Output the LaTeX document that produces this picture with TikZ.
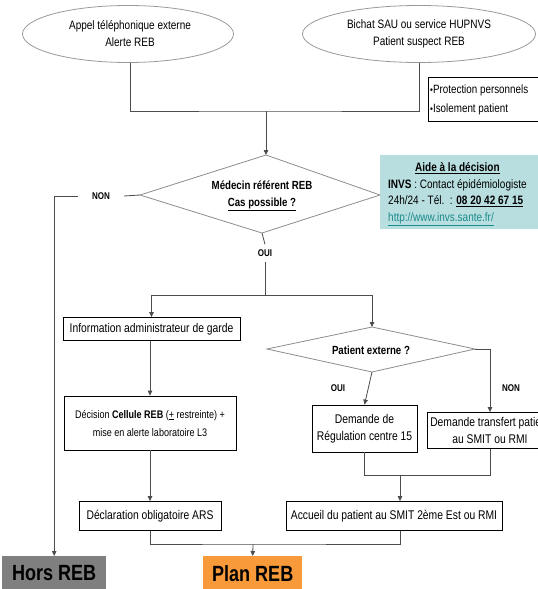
\documentclass[tikz,border=0pt]{standalone}
\usepackage{fontspec}
\setmainfont{Liberation Sans}[FakeStretch=0.82]
\usetikzlibrary{shapes.geometric,arrows.meta}
\definecolor{aidefill}{HTML}{B8DEE0}
\definecolor{urlc}{HTML}{1A8A8A}
\definecolor{horsfill}{HTML}{7F7F7F}
\definecolor{planfill}{HTML}{F99A3A}
\begin{document}
\begin{tikzpicture}[x=1pt,y=-1pt,
  conn/.style={draw=black!70, line width=0.8pt},
  arr/.style={conn, -{Triangle[length=5pt,width=4.5pt]}},
  txt/.style={font=\fontsize{12.6}{17.5}\selectfont},
  lbl/.style={font=\bfseries\fontsize{9.8}{11}\selectfont, inner sep=0pt},
  oval/.style={ellipse, draw=black!40, line width=0.8pt, inner sep=0pt},
  ovaltext/.style={font=\fontsize{12.2}{17}\selectfont, align=center, inner sep=0pt},
  boxn/.style={rectangle, draw=black, line width=0.8pt, txt, align=center, inner sep=0pt},
  diatext/.style={font=\bfseries\fontsize{11.8}{17}\selectfont, align=center, inner sep=0pt},
  diaedge/.style={draw=black!45, line width=0.8pt},
  bigbox/.style={rectangle, inner sep=0pt, font=\bfseries\fontsize{22}{24}\selectfont}
]
\clip (0,0) rectangle (538,589);
\useasboundingbox (0,0) rectangle (538,589);

% ovals
\node[oval, minimum width=211pt, minimum height=57pt] (e1) at (128,34) {};
\node[ovaltext] (e1t) at (130,34) {Appel téléphonique externe\\Alerte REB};
\node[oval, minimum width=233pt, minimum height=57pt] (e2) at (419,34) {};
\node[ovaltext] (e2t) at (419,34) {Bichat SAU ou service HUPNVS\\Patient suspect REB};

% protection box
\node[rectangle, draw=black, line width=0.8pt, inner sep=0pt, minimum width=112pt, minimum height=44pt, anchor=north west] (prot) at (428,77) {};
\node[font=\fontsize{12}{19}\selectfont, align=left, anchor=west, inner sep=0pt] (prott) at (430,100) {{\fontsize{10}{10}\selectfont\textbullet}Protection personnels\\{\fontsize{10}{10}\selectfont\textbullet}Isolement patient};

\coordinate (j1) at (266,111);
\draw[conn] (e1.south -| e1t) |- (j1) -| (e2.south);

% diamond 1
\coordinate (d1n) at (266,155);
\coordinate (d1s) at (262,233);
\coordinate (d1w) at (140,195);
\coordinate (d1e) at (380,195);
\draw[diaedge] (d1n) -- (d1e) -- (d1s) -- (d1w) -- cycle;
\node[diatext] (d1) at (262,196) {Médecin référent REB\\\underline{Cas possible ?}};
\draw[arr] (j1) -- (d1n);

% aide box
\node[rectangle, fill=aidefill, inner sep=0pt, minimum width=160pt, minimum height=74pt, anchor=north west] (aide) at (380,155) {};
\node[inner sep=0pt, anchor=north west, font=\fontsize{12.2}{16.5}\selectfont] (aidet) at (388,160) {%
\begin{tabular}{@{}l@{}}
\multicolumn{1}{@{}c@{}}{\underline{\textbf{Aide à la décision}}}\\
\textbf{INVS} : Contact épidémiologiste\\
24h/24 - Tél.\ \ : \underline{\textbf{08 20 42 67 15}}\\
\textcolor{urlc}{\underline{http://www.invs.sante.fr/}}
\end{tabular}};

% NON / OUI of diamond 1
\node[lbl, inner xsep=14pt] (non1) at (101,196) {NON};
\node[lbl, inner ysep=5pt] (oui1) at (265,253) {OUI};
\node[bigbox, fill=horsfill, minimum width=104pt, minimum height=34pt, anchor=north west] (hors) at (2,556) {Hors REB};
\draw[conn] (d1w) -- (non1.east);
\draw[arr] (non1.west) -| (hors.north);
\draw[conn] (d1s) -- (oui1.north);
\coordinate (j2) at (265,295);
\draw[conn] (oui1.south) -- (j2);

% left branch
\node[boxn, minimum width=177pt, minimum height=23pt] (info) at (151.5,329) {Information administrateur de garde};
\node[boxn, minimum width=172pt, minimum height=54pt, font=\fontsize{11}{18}\selectfont] (dec) at (150,423) {Décision \textbf{Cellule REB} (\underline{+} restreinte) +\\mise en alerte laboratoire L3};
\node[boxn, minimum width=142pt, minimum height=29pt] (decl) at (150,516) {Déclaration obligatoire ARS};
\draw[arr] (j2) -| (info.north);
\draw[arr] (info.south -| dec.north) -- (dec.north);
\draw[arr] (dec.south) -- (decl.north);

% diamond 2
\coordinate (d2n) at (372,327);
\coordinate (d2s) at (372,372);
\coordinate (d2w) at (267,349);
\coordinate (d2e) at (475,349);
\draw[diaedge] (d2n) -- (d2e) -- (d2s) -- (d2w) -- cycle;
\node[diatext] (d2) at (371,350) {Patient externe ?};
\draw[arr] (j2) -| (d2n);

\node[lbl] (oui2) at (338,388) {OUI};
\node[lbl] (non2) at (511,388) {NON};

\node[boxn, minimum width=105pt, minimum height=47pt] (reg) at (364.5,428.5) {Demande de\\Régulation centre 15};
\node[boxn, minimum width=126pt, minimum height=36pt] (trans) at (490,430.5) {Demande transfert patient\\au SMIT ou RMI};
\draw[arr] (d2s) -- (reg.north);
\draw[arr] (d2e) -| (trans.north);

\node[boxn, minimum width=216pt, minimum height=29pt] (acc) at (394,516) {Accueil du patient au SMIT 2ème Est ou RMI};
\coordinate (j3) at (400,475);
\draw[conn] (reg.south) |- (j3 -| trans.south) -- (trans.south);
\draw[arr] (j3) -- (j3 |- acc.north);

% bottom
\node[bigbox, fill=planfill, minimum width=99pt, minimum height=34pt, anchor=north west] (plan) at (203,556) {Plan REB};
\coordinate (j4) at (253,544);
\draw[conn] (decl.south) |- (j4) -| (j3 |- acc.south);
\draw[arr] (j4) -- (plan.north);
\end{tikzpicture}
\end{document}
